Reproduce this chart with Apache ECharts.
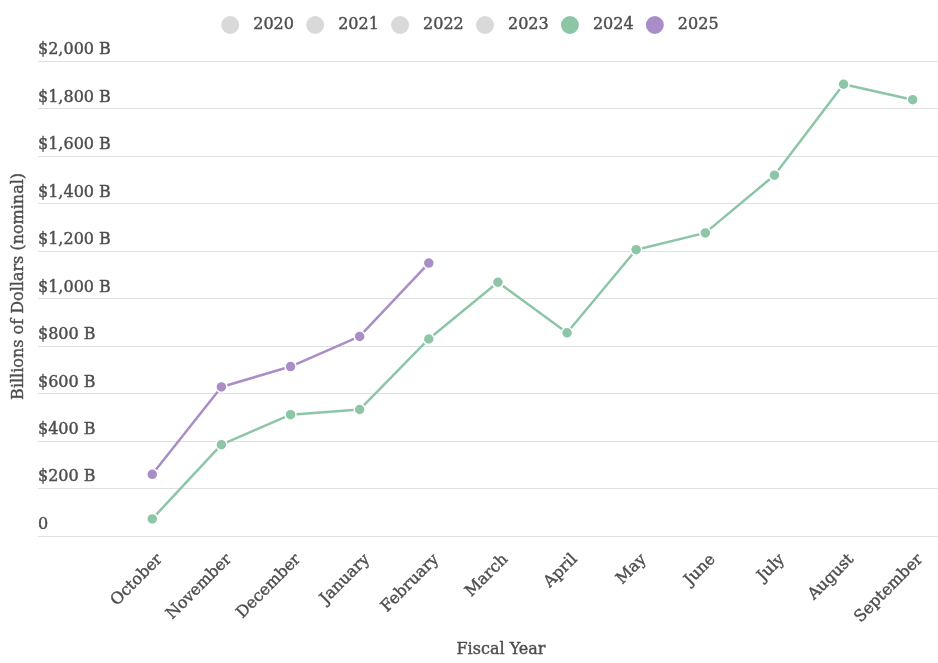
<!DOCTYPE html>
<html>
<head>
<meta charset="utf-8">
<title>Cumulative Spending by Fiscal Year</title>
<script src="https://cdn.jsdelivr.net/npm/echarts@6/dist/echarts.min.js"></script>
<style>
  html, body { margin: 0; padding: 0; background: #ffffff; }
  #chart { width: 938px; height: 663px; }
</style>
</head>
<body>
<div id="chart"></div>
<script>
// Fiscal-year months, October through September
const months = ['October', 'November', 'December', 'January', 'February', 'March',
                'April', 'May', 'June', 'July', 'August', 'September'];

// Cumulative totals, billions of dollars
const fy2024 = [71, 384, 510, 532, 829, 1068, 855, 1205, 1276, 1519, 1902, 1837];
const fy2025 = [259, 627, 713, 840, 1149];

// Earlier years appear in the legend only
const fy2020 = [];
const fy2021 = [];
const fy2022 = [];
const fy2023 = [];

const yTicks = [0, 200, 400, 600, 800, 1000, 1200, 1400, 1600, 1800, 2000];

const FONT = 'DejaVu Serif';
const TEXT = '#4d4d4d';
const GREEN = '#8cc6a6';
const PURPLE = '#a98dc7';
const GREY = '#d9d9d9';

// Slightly heavier lettering for all chart text
const textWeight = { textBorderColor: TEXT, textBorderWidth: 0.4 };

function toPoints(values) {
  return values.map((v, i) => [i, v]);
}

function yearSeries(name, values, color) {
  return {
    name: name,
    type: 'line',
    data: toPoints(values),
    color: color,
    symbol: 'circle',
    symbolSize: 11,
    lineStyle: { width: 2.5, color: color },
    itemStyle: { color: color, borderColor: '#ffffff', borderWidth: 1.5 },
    emphasis: { disabled: true }
  };
}

const chart = echarts.init(document.getElementById('chart'), null, { renderer: 'canvas' });

chart.setOption({
  animation: false,
  backgroundColor: '#ffffff',
  textStyle: { fontFamily: FONT, color: TEXT },
  legend: {
    top: 14,
    left: 'center',
    padding: 0,
    icon: 'circle',
    itemWidth: 20,
    itemHeight: 20,
    itemGap: 10,
    selectedMode: false,
    textStyle: Object.assign({ fontFamily: FONT, fontSize: 16, color: TEXT, padding: [0, 0, 0, 8] }, textWeight),
    data: ['2020', '2021', '2022', '2023', '2024', '2025']
  },
  grid: { left: 38, right: 0, top: 61, bottom: 120, containLabel: false },
  xAxis: {
    type: 'value',
    min: -1.653,
    max: 11.366,
    name: 'Fiscal Year',
    nameLocation: 'middle',
    nameGap: 106,
    nameTextStyle: Object.assign({ fontFamily: FONT, fontSize: 16, color: TEXT, padding: [0, 0, 0, 26] }, textWeight),
    axisLine: { show: false },
    axisTick: { show: false },
    splitLine: { show: false },
    axisLabel: Object.assign({
      customValues: months.map((m, i) => i),
      formatter: (v) => months[Math.round(v)],
      rotate: 45,
      align: 'right',
      verticalAlign: 'top',
      padding: [9, 6, 0, 0],
      margin: 5,
      fontFamily: FONT,
      fontSize: 16,
      color: TEXT
    }, textWeight)
  },
  yAxis: {
    type: 'value',
    min: yTicks[0],
    max: yTicks[yTicks.length - 1],
    interval: yTicks[1] - yTicks[0],
    name: 'Billions of Dollars (nominal)',
    nameLocation: 'middle',
    nameGap: 8,
    nameTextStyle: Object.assign({ fontFamily: FONT, fontSize: 16, color: TEXT, padding: [0, 0, 0, 24] }, textWeight),
    axisLine: { show: false },
    axisTick: { show: false },
    splitLine: { show: true, lineStyle: { color: '#e0e0e0', width: 1 } },
    axisLabel: Object.assign({
      inside: true,
      margin: 0,
      align: 'left',
      verticalAlign: 'bottom',
      padding: [0, 0, 3, 0],
      fontFamily: FONT,
      fontSize: 16,
      color: TEXT,
      formatter: (v) => v === 0 ? '0' : '$' + v.toLocaleString('en-US') + ' B'
    }, textWeight)
  },
  series: [
    yearSeries('2020', fy2020, GREY),
    yearSeries('2021', fy2021, GREY),
    yearSeries('2022', fy2022, GREY),
    yearSeries('2023', fy2023, GREY),
    yearSeries('2024', fy2024, GREEN),
    yearSeries('2025', fy2025, PURPLE)
  ]
});
</script>
</body>
</html>
